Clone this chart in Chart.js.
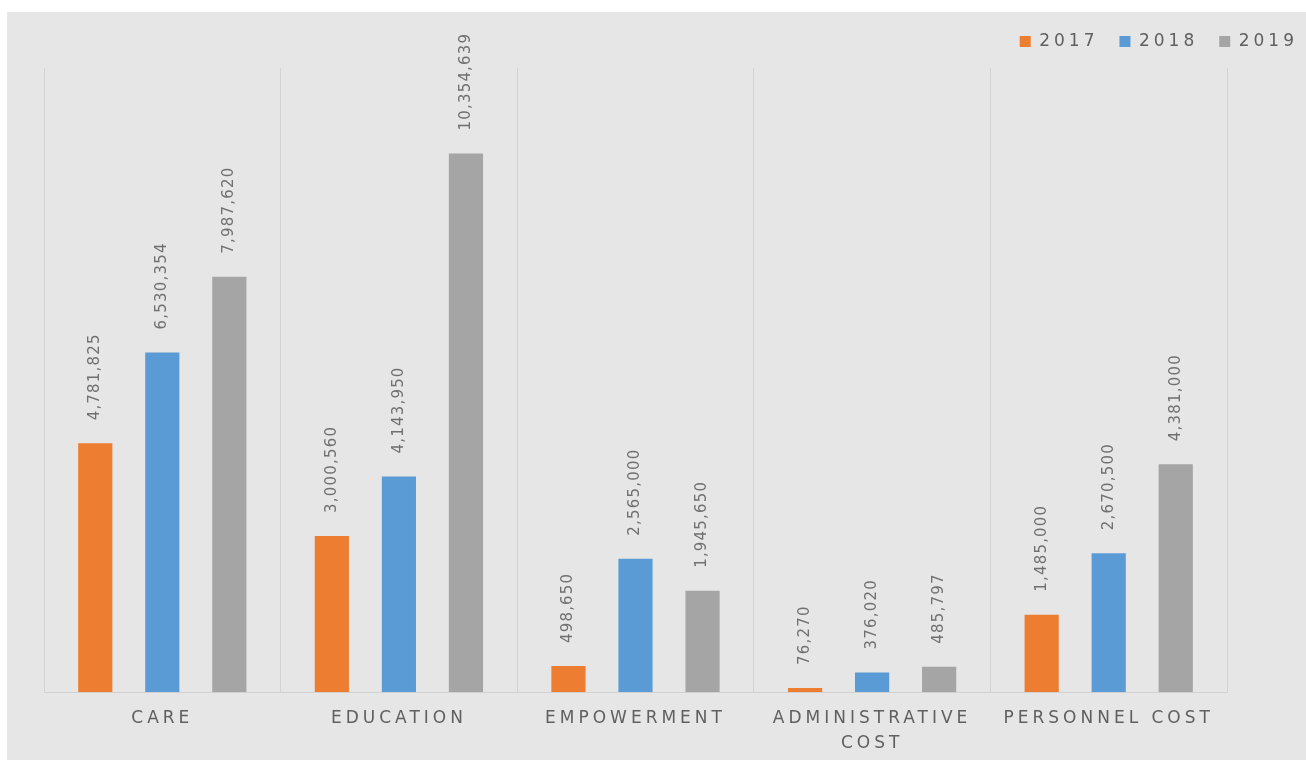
<!DOCTYPE html>
<html>
<head>
<meta charset="utf-8">
<script src="https://cdn.jsdelivr.net/npm/chart.js@4.4.1/dist/chart.umd.min.js"></script>
<style>
	html, body { margin: 0; padding: 0; background: #fff; overflow: hidden; }
	#wrap { position: absolute; left: 7px; top: 12px; width: 1299px; height: 748px; background: #e6e6e6; }
	#box { position: absolute; left: 0; top: 0; width: 1312px; height: 759px; }
</style>
</head>
<body>
<div id="wrap"><div id="box"><canvas id="chart"></canvas></div></div>
<script>
	'use strict';

	// categories and values
	const categories = ['CARE', 'EDUCATION', 'EMPOWERMENT', ['ADMINISTRATIVE', 'COST'], 'PERSONNEL COST'];
	const years      = ['2017', '2018', '2019'];
	const values2017 = [4781825, 3000560, 498650, 76270, 1485000];
	const values2018 = [6530354, 4143950, 2565000, 376020, 2670500];
	const values2019 = [7987620, 10354639, 1945650, 485797, 4381000];
	const colors     = ['#ed7d31', '#5b9bd5', '#a5a5a5'];

	const textGrey = '#606060';

	// spaced-out lettering, like the original
	let spacing = {
		id: 'spacing',
		beforeUpdate: function (chart) { chart.ctx.letterSpacing = '4px'; },
		beforeDraw: function (chart) { chart.ctx.letterSpacing = '4px'; }
	};

	// a bit more room under the legend before the plot starts
	let legendGap = {
		id: 'legendGap',
		afterInit: function (chart) {
			let legend = chart.legend;
			if (!legend) {
				return;
			}
			let fit = legend.fit;
			legend.fit = function () {
				fit.call(this);
				this.height += 8;
			};
		}
	};

	// rotated value labels above every bar
	let barLabels = {
		id: 'barLabels',
		afterDatasetsDraw: function (chart) {
			let ctx = chart.ctx;
			ctx.save();
			ctx.font = '15px "DejaVu Sans"';
			ctx.fillStyle = '#707070';
			ctx.letterSpacing = '1.2px';
			ctx.textAlign = 'left';
			ctx.textBaseline = 'middle';
			chart.data.datasets.forEach(function (ds, i) {
				chart.getDatasetMeta(i).data.forEach(function (bar, j) {
					ctx.save();
					ctx.translate(bar.x, bar.y - 23);
					ctx.rotate(-Math.PI / 2);
					ctx.fillText(ds.data[j].toLocaleString('en-US'), 0, 0);
					ctx.restore();
				});
			});
			ctx.restore();
		}
	};

	let series = [values2017, values2018, values2019];

	new Chart(document.getElementById('chart'), {
		type: 'bar',
		data: {
			labels: categories,
			datasets: years.map(function (y, i) {
				return {
					label: y,
					data: series[i],
					backgroundColor: colors[i],
					borderWidth: 0,
					barPercentage: 0.51,
					categoryPercentage: 0.85
				};
			})
		},
		options: {
			responsive: true,
			maintainAspectRatio: false,
			animation: false,
			layout: { padding: { top: 0, right: 0, bottom: 0, left: 0 } },
			plugins: {
				tooltip: { enabled: false },
				legend: {
					position: 'top',
					align: 'end',
					labels: {
						color: textGrey,
						font: { family: '"DejaVu Sans"', size: 17 },
						boxWidth: 11,
						boxHeight: 11,
						padding: 21
					}
				}
			},
			scales: {
				x: {
					grid: { color: '#d2d2d2', drawTicks: false, offset: true },
					border: { color: '#d2d2d2' },
					ticks: {
						color: textGrey,
						font: { family: '"DejaVu Sans"', size: 17, lineHeight: 1.47 },
						padding: 14.5,
						maxRotation: 0,
						autoSkip: false
					}
				},
				y: {
					min: 0,
					max: 12000000,
					grid: { display: false },
					border: { display: false },
					ticks: { display: false },
					afterFit: function (scale) { scale.width = 37; }
				},
				yRight: {
					position: 'right',
					grid: { display: false },
					border: { display: false },
					ticks: { display: false },
					afterFit: function (scale) { scale.width = 92; }
				}
			}
		},
		plugins: [spacing, legendGap, barLabels]
	});
</script>
</body>
</html>
